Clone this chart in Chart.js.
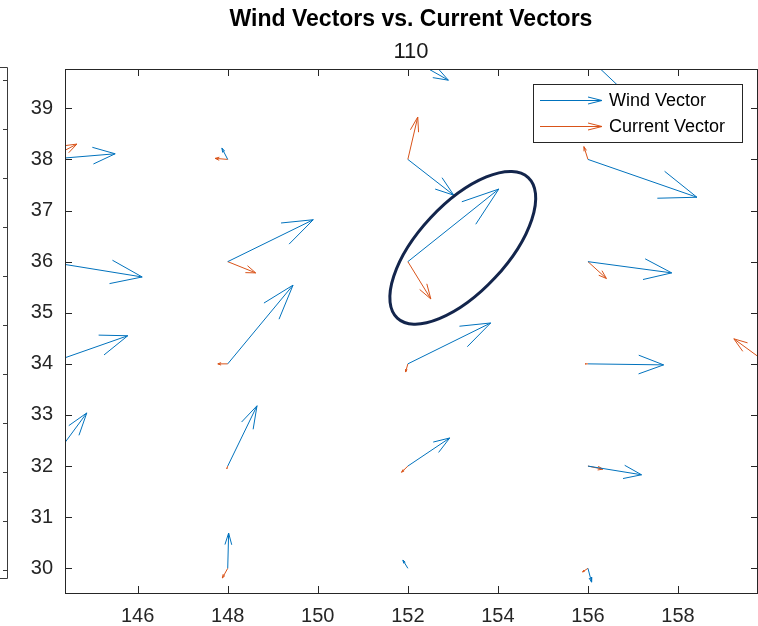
<!DOCTYPE html>
<html><head><meta charset="utf-8">
<script src="https://cdn.jsdelivr.net/npm/chart.js@4/dist/chart.umd.min.js"></script>
<style>html,body{margin:0;padding:0;background:#fff}#wrap{width:758px;height:626px}</style>
</head><body><div id="wrap"><canvas id="c" width="758" height="626"></canvas></div>
<script>
const titleText = 'Wind Vectors vs. Current Vectors';
const subtitleText = '110';
const xTickValues = [146,148,150,152,154,156,158];
const yTickValues = [30,31,32,33,34,35,36,37,38,39];
const xRange = [144.386, 159.754];
const yRange = [29.517, 39.769];

const windLabel = 'Wind Vector';
const windBaseX = [144,144,144,144,148,148,148,148,148,152,152,152,152,152,152,156,156,156,156,156,156];
const windBaseY = [38,36,34,32,38,36,34,32,30,40,38,36,34,32,30,40,38,36,34,32,30];
const windU = [1.50,2.10,1.78,0.87,-0.13,1.90,1.45,0.65,0.02,0.90,1.02,2.02,1.84,0.93,-0.11,1.50,2.42,1.86,1.68,1.19,0.08];
const windV = [0.11,-0.30,0.55,1.04,0.22,0.82,1.54,1.18,0.69,-0.45,-0.70,1.42,0.80,0.55,0.16,-1.25,-0.74,-0.22,-0.02,-0.17,-0.27];

const currentLabel = 'Current Vector';
const currentBaseX = [144,148,148,148,148,148,152,152,152,152,156,156,156,156,156,160];
const currentBaseY = [38,38,36,34,32,30,38,36,34,32,38,36,34,32,30,34];
const currentU = [0.65,-0.28,0.62,-0.22,-0.02,-0.12,0.22,0.51,-0.05,-0.14,-0.09,0.41,-0.06,0.33,-0.12,-0.76];
const currentV = [0.30,0.02,-0.22,0.00,-0.05,-0.19,0.83,-0.73,-0.16,-0.12,0.25,-0.33,0.00,-0.06,-0.07,0.49];

// highlighted vector (annotation ellipse centre, in data units)
const highlightCenter = [153.22, 36.27];

const WIND_COLOR = '#0072BD';
const CURRENT_COLOR = '#D95319';
const AXIS_COLOR = '#262626';
const FONT = '"Liberation Sans", Arial, Helvetica, sans-serif';

// quiver: shaft + MATLAB-style arrow head (alpha = beta = 0.33)
function quiverPoints(bx, by, u, v) {
  const a = 0.33, b = 0.33, pts = [];
  for (let i = 0; i < bx.length; i++) {
    const x1 = bx[i] + u[i], y1 = by[i] + v[i];
    pts.push({x: bx[i], y: by[i]}, {x: x1, y: y1}, {x: x1, y: null});
    pts.push({x: x1 - a * (u[i] + b * v[i]), y: y1 - a * (v[i] - b * u[i])},
             {x: x1, y: y1},
             {x: x1 - a * (u[i] - b * v[i]), y: y1 - a * (v[i] + b * u[i])},
             {x: x1, y: null});
  }
  return pts;
}

const decor = {
  id: 'decor',
  afterDatasetsDraw(chart) {
    const ctx = chart.ctx, a = chart.chartArea;
    const xs = chart.scales.x, ys = chart.scales.y;
    ctx.save();
    // axes box
    ctx.strokeStyle = AXIS_COLOR; ctx.lineWidth = 1;
    ctx.strokeRect(a.left + 0.5, a.top + 0.5, a.right - a.left, a.bottom - a.top);
    // inward ticks
    const tl = 7;
    ctx.beginPath();
    xTickValues.forEach(v => {
      const p = Math.round(xs.getPixelForValue(v)) + 0.5;
      ctx.moveTo(p, a.bottom); ctx.lineTo(p, a.bottom - tl);
      ctx.moveTo(p, a.top); ctx.lineTo(p, a.top + tl);
    });
    yTickValues.forEach(v => {
      const p = Math.round(ys.getPixelForValue(v)) + 0.5;
      ctx.moveTo(a.left, p); ctx.lineTo(a.left + tl, p);
      ctx.moveTo(a.right + 1, p); ctx.lineTo(a.right + 1 - tl, p);
    });
    ctx.stroke();

    // legend box (top-right, inside axes)
    const lw = 209, lh = 58;
    const lx = a.right - 15 - lw, ly = a.top + 15;
    ctx.fillStyle = '#fff';
    ctx.fillRect(lx, ly, lw, lh);
    ctx.strokeStyle = AXIS_COLOR;
    ctx.strokeRect(lx + 0.5, ly + 0.5, lw, lh);
    ctx.font = '18px ' + FONT;
    ctx.textBaseline = 'middle';
    ctx.textAlign = 'left';
    chart.data.datasets.forEach((ds, i) => {
      const ry = Math.round(ly + 16 + i * 26) + 0.5;
      const x0 = lx + 7, x1 = lx + 69;
      ctx.strokeStyle = ds.borderColor; ctx.lineWidth = 1;
      ctx.beginPath();
      ctx.moveTo(x0, ry); ctx.lineTo(x1, ry);
      ctx.moveTo(x1 - 14, ry - 3.5); ctx.lineTo(x1, ry); ctx.lineTo(x1 - 14, ry + 3.5);
      ctx.stroke();
      ctx.fillStyle = '#000';
      ctx.fillText(ds.label, lx + 76, ry + 1);
    });

    // annotation ellipse around highlighted vector
    const cx = xs.getPixelForValue(highlightCenter[0]);
    const cy = ys.getPixelForValue(highlightCenter[1]);
    ctx.strokeStyle = '#13254c'; ctx.lineWidth = 3;
    ctx.beginPath();
    ctx.ellipse(cx, cy, 96, 44, -47 * Math.PI / 180, 0, Math.PI * 2);
    ctx.stroke();

    // edge of neighbouring axes (cropped) at far left
    ctx.strokeStyle = '#3a3a3a'; ctx.lineWidth = 1;
    ctx.beginPath();
    ctx.moveTo(0, 67.5); ctx.lineTo(7.5, 67.5); ctx.lineTo(7.5, 578.5); ctx.lineTo(0, 578.5);
    for (let k = 0; k <= 10; k++) {
      const ty = 80.5 + k * 49;
      ctx.moveTo(7.5, ty); ctx.lineTo(3, ty);
    }
    ctx.stroke();
    ctx.restore();
  }
};

new Chart(document.getElementById('c'), {
  type: 'scatter',
  data: {
    datasets: [
      {label: windLabel, data: quiverPoints(windBaseX, windBaseY, windU, windV),
       showLine: true, borderColor: WIND_COLOR, backgroundColor: WIND_COLOR,
       borderWidth: 1, pointRadius: 0, tension: 0, spanGaps: false},
      {label: currentLabel, data: quiverPoints(currentBaseX, currentBaseY, currentU, currentV),
       showLine: true, borderColor: CURRENT_COLOR, backgroundColor: CURRENT_COLOR,
       borderWidth: 1, pointRadius: 0, tension: 0, spanGaps: false}
    ]
  },
  options: {
    responsive: false,
    animation: false,
    devicePixelRatio: 1,
    layout: {padding: {left: 0, right: 1, top: 0, bottom: 0}},
    plugins: {
      legend: {display: false},
      tooltip: {enabled: false},
      title: {display: true, text: titleText, fullSize: false, color: '#000',
              font: {family: FONT, size: 23, weight: 'bold'}, padding: {top: 6, bottom: 4}},
      subtitle: {display: true, text: subtitleText, fullSize: false, color: '#1a1a1a',
                 font: {family: FONT, size: 22, weight: 'normal'}, padding: {top: 1, bottom: 4}}
    },
    scales: {
      x: {type: 'linear', position: 'bottom', min: xRange[0], max: xRange[1],
          afterBuildTicks: s => { s.ticks = xTickValues.map(v => ({value: v})); },
          afterFit: s => { s.height = 33; },
          grid: {display: false, drawTicks: false}, border: {display: false},
          ticks: {color: AXIS_COLOR, padding: 11, maxRotation: 0, autoSkip: false,
                  font: {family: FONT, size: 20}}},
      y: {type: 'linear', position: 'left', min: yRange[0], max: yRange[1],
          afterBuildTicks: s => { s.ticks = yTickValues.map(v => ({value: v})); },
          afterFit: s => { s.width = 65; },
          grid: {display: false, drawTicks: false}, border: {display: false},
          ticks: {color: AXIS_COLOR, padding: 12, autoSkip: false,
                  font: {family: FONT, size: 20}}}
    }
  },
  plugins: [decor]
});
</script></body></html>
